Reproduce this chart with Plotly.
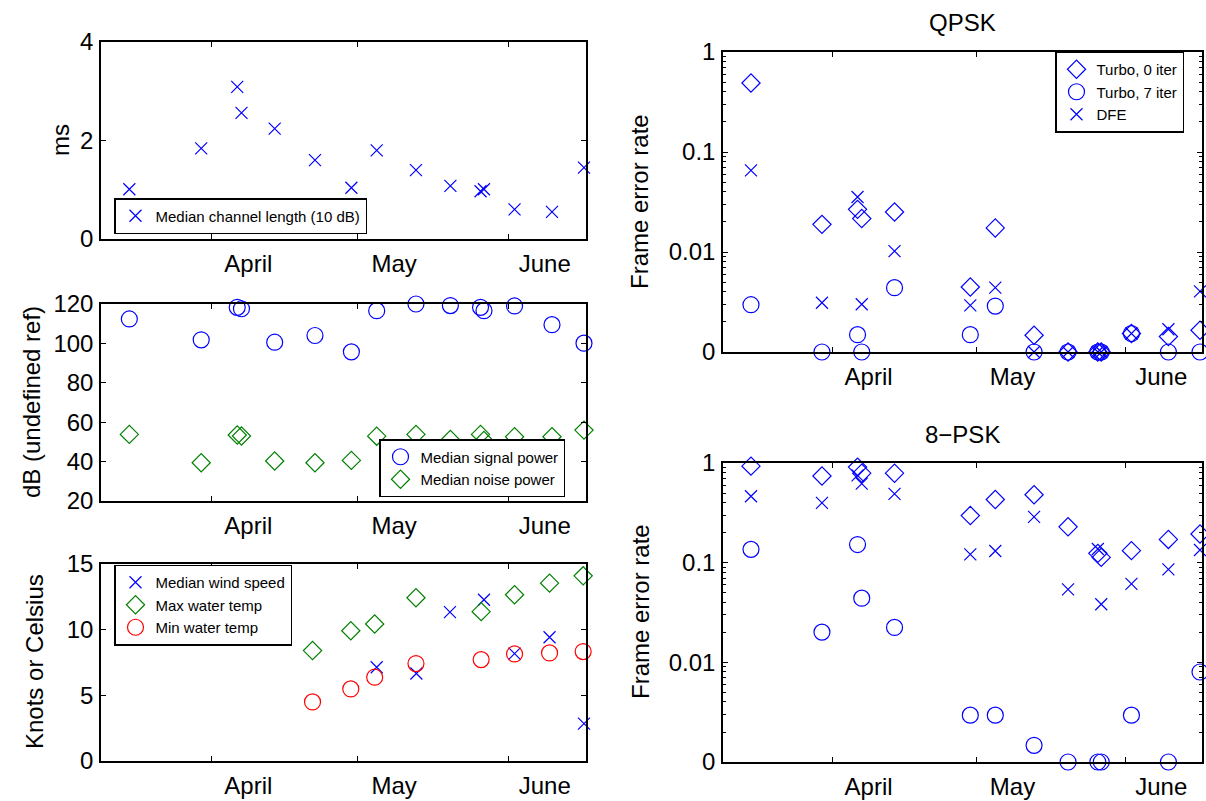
import plotly.graph_objects as go

FONT = "Liberation Sans, Arial, Helvetica, sans-serif"

# ---------------- data ----------------
dates = ["2004-03-15 00:00", "2004-03-29 19:00", "2004-04-06 05:00", "2004-04-07 02:00",
         "2004-04-13 22:00", "2004-04-22 05:00", "2004-04-29 17:00", "2004-05-04 22:00",
         "2004-05-13 00:00", "2004-05-20 02:00", "2004-05-26 07:00", "2004-05-27 00:00",
         "2004-06-02 07:00", "2004-06-10 00:00", "2004-06-16 14:00"]
channel_length_ms = [1.01, 1.84, 3.09, 2.56, 2.24, 1.60, 1.04, 1.80, 1.40, 1.08, 0.97, 1.01, 0.60, 0.55, 1.45]
signal_db = [112.4, 101.8, 118.3, 117.6, 100.6, 104.0, 95.7, 116.6, 120.0, 119.2, 118.3, 116.6, 119.0, 109.5, 100.1]
noise_db = [53.8, 39.4, 53.5, 53.0, 40.3, 39.4, 40.6, 52.9, 53.8, 51.2, 53.8, 50.7, 52.6, 52.6, 56.0]

wind_dates = ["2004-05-04 22:00", "2004-05-13 02:00", "2004-05-20 00:00", "2004-05-27 00:00",
              "2004-06-02 07:00", "2004-06-09 12:00", "2004-06-16 14:00"]
wind_knots = [7.14, 6.66, 11.34, 12.28, 8.18, 9.42, 2.84]
temp_dates = ["2004-04-21 17:00", "2004-04-29 14:00", "2004-05-04 12:00", "2004-05-13 00:00",
              "2004-05-26 10:00", "2004-06-02 07:00", "2004-06-09 12:00", "2004-06-16 10:00"]
max_temp = [8.41, 9.92, 10.43, 12.43, 11.37, 12.66, 13.54, 14.10]
min_temp = [4.50, 5.49, 6.38, 7.42, 7.72, 8.15, 8.23, 8.33]

fer_dates = ["2004-03-15 00:00", "2004-03-29 19:00", "2004-04-06 05:00", "2004-04-07 02:00",
             "2004-04-13 22:00", "2004-04-29 17:00", "2004-05-04 22:00", "2004-05-13 00:00",
             "2004-05-20 02:00", "2004-05-26 07:00", "2004-05-27 00:00", "2004-06-02 07:00",
             "2004-06-10 00:00", "2004-06-16 14:00"]
qpsk_turbo0 = [0.49, 0.0189, 0.0267, 0.0216, 0.0251, 0.00447, 0.0174, 0.00147, 0, 0, 0, 0.00153, 0.00143, 0.00165]
qpsk_turbo7 = [0.00297, 0, 0.00149, 0, 0.0044, 0.00149, 0.00288, 0, 0, 0, 0, 0.00153, 0, 0]
qpsk_dfe = [0.0656, 0.00311, 0.0355, 0.0030, 0.0102, 0.00293, 0.0044, 0, 0, 0, 0, 0.00153, 0.00169, 0.00404]
psk8_turbo0 = [0.93, 0.74, 0.91, 0.79, 0.79, 0.297, 0.43, 0.48, 0.229, 0.124, 0.113, 0.132, 0.171, 0.194]
psk8_turbo7 = [0.136, 0.0201, 0.152, 0.044, 0.0224, 0.00295, 0.00295, 0.00147, 0, 0, 0, 0.00295, 0, 0.008]
psk8_dfe = [0.464, 0.398, 0.75, 0.62, 0.49, 0.121, 0.131, 0.288, 0.054, 0.137, 0.0383, 0.0612, 0.0858, 0.134]

month_label_dates = ["2004-04-08 12:00", "2004-05-08 12:00", "2004-06-08 12:00"]
month_labels = ["April", "May", "June"]
month_start_dates = ["2004-04-01", "2004-05-01", "2004-06-01"]
x_range = ["2004-03-09 04:00", "2004-06-17 00:00"]

fer_tick_vals = [0.001, 0.01, 0.1, 1]
fer_tick_text = ["0", "0.01", "0.1", "1"]
ZERO_LEVEL = 0.001  # the "0" row of the log axis


def on_log(vals):
    return [v if v > 0 else ZERO_LEVEL for v in vals]


BLUE = "rgb(0,0,255)"
GREEN = "rgb(0,128,0)"
RED = "rgb(255,0,0)"
SX, SC, SD = 12, 16, 14

fig = go.Figure()


def mk(symbol, color, size):
    return dict(symbol=symbol, size=size, color=color, line=dict(width=1.2, color=color))


# top-left
fig.add_trace(go.Scatter(x=dates, y=channel_length_ms, mode="markers", name="Median channel length (10 dB)",
                         marker=mk("x-thin-open", BLUE, SX), xaxis="x", yaxis="y", legend="legend",
                         cliponaxis=False))
# mid-left
fig.add_trace(go.Scatter(x=dates, y=signal_db, mode="markers", name="Median signal power",
                         marker=mk("circle-open", BLUE, SC), xaxis="x2", yaxis="y2", legend="legend2",
                         cliponaxis=False))
fig.add_trace(go.Scatter(x=dates, y=noise_db, mode="markers", name="Median noise power",
                         marker=mk("diamond-open", GREEN, SD), xaxis="x2", yaxis="y2", legend="legend2",
                         cliponaxis=False))
# bottom-left
fig.add_trace(go.Scatter(x=wind_dates, y=wind_knots, mode="markers", name="Median wind speed",
                         marker=mk("x-thin-open", BLUE, SX), xaxis="x3", yaxis="y3", legend="legend3",
                         cliponaxis=False))
fig.add_trace(go.Scatter(x=temp_dates, y=max_temp, mode="markers", name="Max water temp",
                         marker=mk("diamond-open", GREEN, SD), xaxis="x3", yaxis="y3", legend="legend3",
                         cliponaxis=False))
fig.add_trace(go.Scatter(x=temp_dates, y=min_temp, mode="markers", name="Min water temp",
                         marker=mk("circle-open", RED, SC), xaxis="x3", yaxis="y3", legend="legend3",
                         cliponaxis=False))
# QPSK
fig.add_trace(go.Scatter(x=fer_dates, y=on_log(qpsk_turbo0), mode="markers", name="Turbo, 0 iter",
                         marker=mk("diamond-open", BLUE, SD), xaxis="x4", yaxis="y4", legend="legend4",
                         cliponaxis=False))
fig.add_trace(go.Scatter(x=fer_dates, y=on_log(qpsk_turbo7), mode="markers", name="Turbo, 7 iter",
                         marker=mk("circle-open", BLUE, SC), xaxis="x4", yaxis="y4", legend="legend4",
                         cliponaxis=False))
fig.add_trace(go.Scatter(x=fer_dates, y=on_log(qpsk_dfe), mode="markers", name="DFE",
                         marker=mk("x-thin-open", BLUE, SX), xaxis="x4", yaxis="y4", legend="legend4",
                         cliponaxis=False))
# 8-PSK
fig.add_trace(go.Scatter(x=fer_dates, y=on_log(psk8_turbo0), mode="markers", showlegend=False,
                         marker=mk("diamond-open", BLUE, SD), xaxis="x5", yaxis="y5", cliponaxis=False))
fig.add_trace(go.Scatter(x=fer_dates, y=on_log(psk8_turbo7), mode="markers", showlegend=False,
                         marker=mk("circle-open", BLUE, SC), xaxis="x5", yaxis="y5", cliponaxis=False))
fig.add_trace(go.Scatter(x=fer_dates, y=on_log(psk8_dfe), mode="markers", showlegend=False,
                         marker=mk("x-thin-open", BLUE, SX), xaxis="x5", yaxis="y5", cliponaxis=False))

W, H = 1206, 801


def px_dom_x(a, b):
    return [a / W, b / W]


def px_dom_y(top, bottom):
    return [1 - bottom / H, 1 - top / H]


TICKFONT = dict(family=FONT, size=24, color="black")
common = dict(showline=True, linecolor="black", linewidth=1.5, mirror="allticks", showgrid=False,
              zeroline=False, tickcolor="black", tickfont=TICKFONT, automargin=False)


def xaxis(dom, anchor):
    return dict(common, domain=dom, anchor=anchor, type="date", range=x_range,
                tickmode="array", tickvals=month_label_dates, ticktext=month_labels, ticks="",
                ticklabelstandoff=2,
                minor=dict(tickmode="array", tickvals=month_start_dates, ticks="inside", ticklen=5,
                           tickcolor="black", tickwidth=1, showgrid=False))


def yaxis(dom, anchor, rng, dtick):
    return dict(common, domain=dom, anchor=anchor, range=rng, tickmode="linear", tick0=rng[0],
                dtick=dtick, ticks="inside", ticklen=5, ticklabelstandoff=1)


minor_log = [m * 10 ** e for e in (-3, -2, -1) for m in range(2, 10)]


def logaxis(dom, anchor):
    return dict(common, domain=dom, anchor=anchor, type="log", range=[-3, 0], tickmode="array",
                tickvals=fer_tick_vals, ticktext=fer_tick_text, ticks="inside", ticklen=5,
                ticklabelstandoff=1,
                minor=dict(tickmode="array", tickvals=minor_log, ticks="inside", ticklen=3,
                           tickcolor="black", tickwidth=1, showgrid=False))


LX = px_dom_x(101, 586)
RX = px_dom_x(723, 1202)

fig.update_layout(
    template="none",
    width=W, height=H, margin=dict(l=0, r=0, t=0, b=0, pad=0, autoexpand=False),
    paper_bgcolor="white", plot_bgcolor="white",
    font=dict(family=FONT, color="black"),
    xaxis=xaxis(LX, "y"), yaxis=yaxis(px_dom_y(42, 239), "x", [0, 4], 2),
    xaxis2=xaxis(LX, "y2"), yaxis2=yaxis(px_dom_y(304, 501), "x2", [20, 120], 20),
    xaxis3=xaxis(LX, "y3"), yaxis3=yaxis(px_dom_y(564, 761), "x3", [0, 15], 5),
    xaxis4=xaxis(RX, "y4"), yaxis4=logaxis(px_dom_y(52, 352), "x4"),
    xaxis5=xaxis(RX, "y5"), yaxis5=logaxis(px_dom_y(463, 762), "x5"),
)

LEG = dict(bgcolor="white", bordercolor="black", borderwidth=1.5,
           font=dict(family=FONT, size=15, color="black"), xanchor="left", yanchor="middle",
           xref="paper", yref="paper", tracegroupgap=0, itemclick=False)
fig.update_layout(
    legend=dict(LEG, x=114 / W, y=1 - 216 / H),
    legend2=dict(LEG, x=379 / W, y=1 - 468 / H),
    legend3=dict(LEG, x=114 / W, y=1 - 605 / H),
    legend4=dict(LEG, x=1055 / W, y=1 - 92 / H),
)

ann = []


def title_ann(text, xpx, ypx, angle=0, size=24):
    ann.append(dict(text=text, x=xpx / W, y=1 - ypx / H, xref="paper", yref="paper", showarrow=False,
                    textangle=angle, xanchor="center", yanchor="middle",
                    font=dict(family=FONT, size=size, color="black")))


title_ann("ms", 60, 140, -90)
title_ann("dB (undefined ref)", 31, 402, -90)
title_ann("Knots or Celsius", 34, 662, -90)
title_ann("Frame error rate", 640, 202, -90)
title_ann("Frame error rate", 640, 612, -90)
title_ann("QPSK", 962, 23)
title_ann("8\u2212PSK", 962, 434)
fig.update_layout(annotations=ann)

fig.write_html("out.html")
